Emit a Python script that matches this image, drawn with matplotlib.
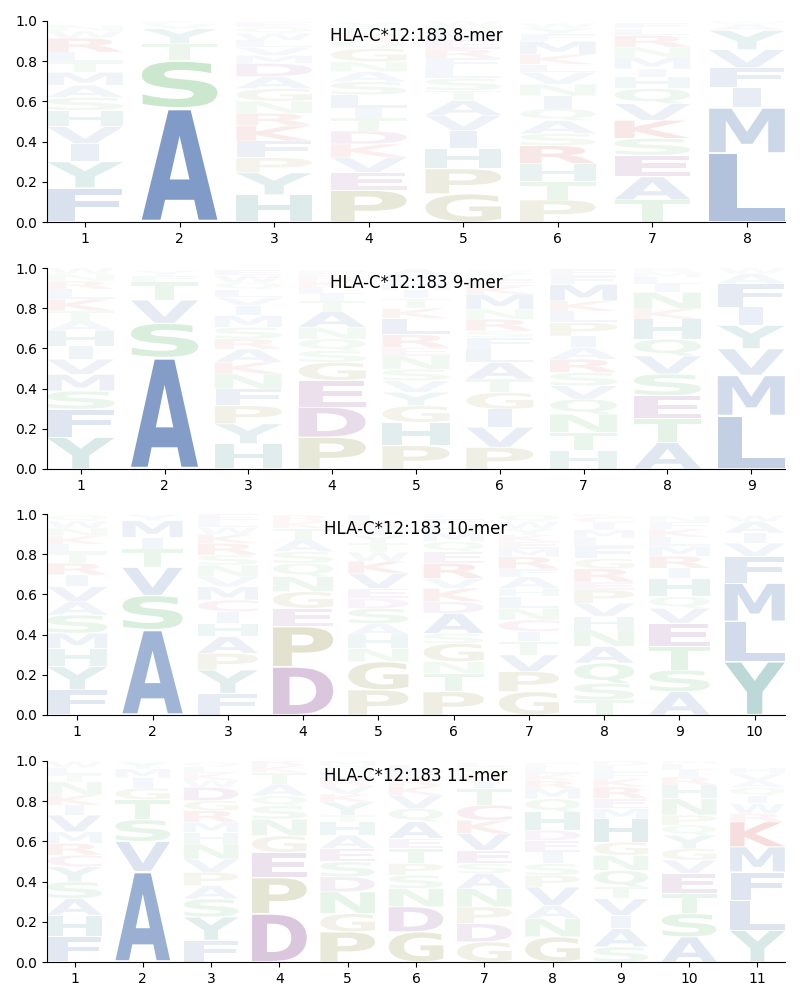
import numpy as np
import matplotlib

matplotlib.use("Agg")
import matplotlib.pyplot as plt
from matplotlib.textpath import TextPath
from matplotlib.patches import PathPatch
from matplotlib.font_manager import FontProperties
from matplotlib.transforms import Affine2D

# ---- DATA (letters stacked bottom -> top, heights = frequency) -----------

ALLELE = "HLA-C*12:183"

mer8_letters = [
    "FYIVHSAMTLRWN",
    "ASTYVF",
    "HYPFKRNGADMVLWQE",
    "PEVKDTILSANGQRFY",
    "GPHIVATSLFREMNW",
    "PTHRSAQINVLKMFYW",
    "TAESKVQHIMNRLF",
    "LMIFVYAW",
]
mer8_heights = [
    [.17, .13, .09, .085, .08, .065, .06, .065, .05, .05, .07, .035, .03],
    [.567, .235, .085, .075, .025, .013],
    [.135, .11, .075, .083, .075, .063, .06, .063, .06, .065, .04, .04, .035, .035, .03, .025],
    [.158, .09, .075, .065, .065, .065, .05, .065, .065, .05, .05, .065, .04, .035, .03, .025],
    [.14, .125, .1, .09, .075, .075, .05, .06, .05, .05, .045, .045, .04, .03, .025],
    [.11, .09, .09, .09, .06, .065, .058, .065, .058, .058, .04, .05, .065, .035, .03, .025],
    [.11, .115, .108, .083, .09, .083, .075, .058, .04, .058, .05, .058, .035, .03],
    [.343, .225, .1, .1, .09, .095, .03, .017],
]

mer9_letters = [
    "YFSMVIHATKLRNW",
    "ASVTFY",
    "HYPFNKARSMIVLQWE",
    "PDEGSQNATILKRF",
    "PHGYVSNERLKTIMFA",
    "PVIGTALFSRNMKEYQ",
    "HTNQVSRAIPLKMFE",
    "ATESVQHKNILMR",
    "LMVYIFAW",
]
mer9_heights = [
    [.158, .14, .09, .083, .075, .066, .075, .05, .05, .058, .05, .04, .035, .03],
    [.555, .17, .116, .09, .03, .025],
    [.125, .1, .09, .083, .075, .058, .066, .05, .058, .058, .05, .04, .04, .035, .035, .03],
    [.158, .15, .133, .09, .058, .058, .058, .08, .05, .035, .035, .03, .025, .025],
    [.116, .116, .083, .066, .058, .058, .066, .04, .066, .08, .05, .05, .04, .035, .03, .04],
    [.108, .1, .09, .083, .066, .083, .066, .058, .033, .058, .05, .075, .04, .035, .03, .02],
    [.091, .091, .091, .075, .066, .066, .066, .058, .058, .066, .058, .05, .083, .04, .035],
    [.133, .116, .116, .108, .09, .083, .1, .05, .083, .04, .035, .025, .02],
    [.266, .2, .133, .116, .091, .116, .05, .028],
]

mer10_letters = [
    "FYHMSAVIRTLKNWQ",
    "ASVTIMY",
    "FYPAHICMVNSRKWLE",
    "DPEGNQSATKR",
    "PGNHASDEVKWTYIRL",
    "PTNGSADKVREQMHFL",
    "GPVTICNLHAFRMEKYWQ",
    "TSQANHVPERGFLMICK",
    "ASTEVQHIRMLKFN",
    "YLMFVIAW",
]
mer10_heights = [
    [.125, .116, .091, .075, .091, .066, .075, .058, .058, .05, .045, .04, .04, .035, .03],
    [.425, .17, .14, .091, .058, .083, .03],
    [.108, .116, .083, .083, .066, .058, .058, .066, .05, .058, .05, .058, .045, .035, .035, .03],
    [.24, .2, .091, .083, .075, .066, .058, .058, .058, .035, .03],
    [.125, .14, .066, .066, .058, .075, .05, .05, .075, .06, .045, .045, .04, .035, .035, .03],
    [.116, .091, .058, .091, .05, .1, .058, .066, .05, .075, .058, .05, .045, .04, .03, .02],
    [.116, .1, .083, .066, .05, .058, .058, .058, .04, .058, .04, .06, .04, .035, .035, .03, .035, .035],
    [.075, .083, .1, .083, .083, .066, .066, .066, .04, .066, .05, .058, .045, .04, .035, .03, .02],
    [.116, .108, .116, .116, .075, .058, .091, .05, .06, .05, .045, .04, .035, .03],
    [.266, .2, .19, .133, .066, .05, .058, .03],
]

mer11_letters = [
    "FHASYCRMVIKNTLW",
    "AVSTGIMY",
    "FYSAPVNHMRGDWKLQ",
    "DPEGNSQATKR",
    "PGNDSEAHTYKVRLQM",
    "GDNSPTEAQVKRFL",
    "GDPNASEVKCTIRQL",
    "GNAVPSIEDHQMRKLF",
    "SAIVTQNGHMERKFLD",
    "ASTEVGYQPNHRILM",
    "YLFMKRWIQAVH",
]
mer11_heights = [
    [.125, .108, .083, .083, .075, .058, .058, .058, .083, .05, .05, .066, .035, .035, .03],
    [.45, .15, .108, .1, .058, .05, .045, .035],
    [.108, .116, .09, .066, .066, .066, .075, .058, .05, .058, .05, .066, .035, .035, .03, .025],
    [.24, .18, .125, .083, .083, .066, .05, .058, .058, .035, .03],
    [.15, .091, .108, .075, .075, .066, .066, .066, .033, .066, .04, .04, .035, .035, .03, .025],
    [.15, .125, .091, .066, .058, .075, .05, .083, .066, .066, .045, .04, .035, .03],
    [.1, .091, .083, .091, .075, .05, .066, .083, .066, .075, .083, .04, .035, .03, .025],
    [.125, .091, .066, .091, .058, .058, .058, .058, .05, .091, .066, .05, .04, .035, .03, .025],
    [.075, .091, .066, .083, .058, .083, .075, .066, .116, .05, .05, .058, .04, .035, .03, .025],
    [.125, .116, .1, .1, .066, .058, .066, .05, .05, .083, .066, .04, .035, .03, .02],
    [.158, .15, .14, .125, .125, .04, .05, .04, .04, .035, .035, .03],
]

PANELS = [
    ("8-mer", mer8_letters, mer8_heights),
    ("9-mer", mer9_letters, mer9_heights),
    ("10-mer", mer10_letters, mer10_heights),
    ("11-mer", mer11_letters, mer11_heights),
]

# ---- STYLE ---------------------------------------------------------------

AA_COLORS = {}
for aa in "AVLIMFW":
    AA_COLORS[aa] = "#4c72b0"   # hydrophobic
for aa in "STNQ":
    AA_COLORS[aa] = "#4fb05a"   # polar
for aa in "PG":
    AA_COLORS[aa] = "#8c8c3c"
for aa in "DE":
    AA_COLORS[aa] = "#8a4891"   # acidic
for aa in "KR":
    AA_COLORS[aa] = "#c83232"   # basic
for aa in "HY":
    AA_COLORS[aa] = "#3a8f89"
AA_COLORS["C"] = "#b04080"

LETTER_WIDTH = 0.8
VPAD = 0.04
FONT = FontProperties(family="DejaVu Sans", weight="bold")

_glyph_cache = {}


def glyph(ch):
    if ch not in _glyph_cache:
        p = TextPath((0, 0), ch, size=1, prop=FONT)
        _glyph_cache[ch] = (p, p.get_extents())
    return _glyph_cache[ch]


# narrow glyphs (like I) are not stretched wider than E would be
E_WIDTH = glyph("E")[1].width


def draw_letter(ax, ch, x, y0, h):
    path, bb = glyph(ch)
    hh = h * (1 - VPAD)
    yb = y0 + h * VPAD / 2
    sx = LETTER_WIDTH / max(bb.width, E_WIDTH)
    w = bb.width * sx
    tr = (Affine2D()
          .translate(-bb.x0, -bb.y0)
          .scale(sx, hh / bb.height)
          .translate(x - w / 2, yb))
    alpha = float(np.clip(1.25 * h, 0.0, 1.0))
    patch = PathPatch(tr.transform_path(path), facecolor=AA_COLORS[ch],
                      edgecolor="none", alpha=alpha)
    ax.add_patch(patch)


# ---- PLOT ----------------------------------------------------------------

fig = plt.figure(figsize=(8, 10), dpi=100)
bottoms = [0.778, 0.531, 0.285, 0.038]

for (name, letters, heights), b in zip(PANELS, bottoms):
    ax = fig.add_axes([0.059, b, 0.922, 0.201])
    n = len(letters)
    for i, (col, hs) in enumerate(zip(letters, heights)):
        y = 0.0
        for ch, h in zip(col, hs):
            draw_letter(ax, ch, i + 1, y, h)
            y += h
    ax.set_xlim(0.6, n + 0.4)
    ax.set_ylim(0, 1)
    ax.set_xticks(range(1, n + 1))
    ax.set_yticks(np.arange(0, 1.01, 0.2))
    ax.spines["top"].set_visible(False)
    ax.spines["right"].set_visible(False)
    ax.text(0.5, 0.925, f"{ALLELE} {name}", transform=ax.transAxes,
            ha="center", va="center", fontsize=12)

plt.savefig("out.png", dpi=100)
